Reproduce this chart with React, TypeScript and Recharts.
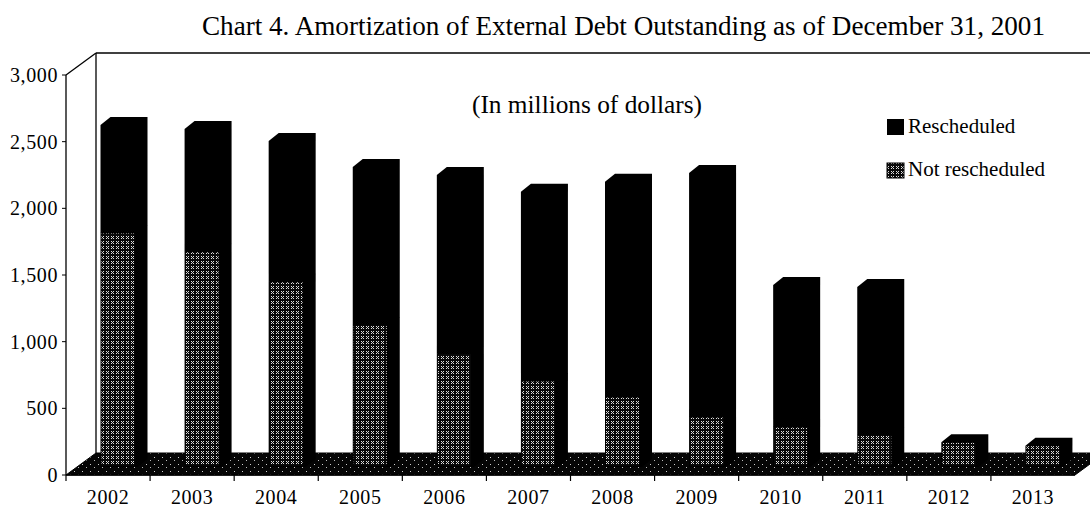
import React from 'react';
import { BarChart, Bar, XAxis, YAxis } from 'recharts';

const FONT = '"Liberation Serif", "Times New Roman", Times, serif';

const years = ['2002', '2003', '2004', '2005', '2006', '2007', '2008', '2009', '2010', '2011', '2012', '2013'];
const notRescheduled = [1755, 1615, 1390, 1065, 850, 645, 525, 375, 300, 240, 185, 160];
const rescheduled = [810, 920, 1055, 1185, 1340, 1420, 1615, 1830, 1065, 1110, 0, 0];
const valueTicks = [0, 500, 1000, 1500, 2000, 2500, 3000];
const seriesNames = ['Rescheduled', 'Not rescheduled'];
const chartTitle = 'Chart 4. Amortization of External Debt Outstanding as of December 31, 2001';
const chartSubtitle = '(In millions of dollars)';

const data = years.map((year, i) => ({
  year,
  notRescheduled: notRescheduled[i],
  rescheduled: rescheduled[i],
}));

// layout constants
const W = 1090;
const H = 508;
const PLOT_LEFT = 66;
const PLOT_RIGHT = 1075;
const PLOT_TOP = 75;
const PLOT_BOTTOM = 475;
const BAND = (PLOT_RIGHT - PLOT_LEFT) / years.length;
const WALL_DX = 30;
const WALL_DY = 22;
const DEPTH_X = 10;
const DEPTH_Y = 8;
const SHIFT_X = 10.5;
const SHIFT_Y = 8;

const Bar3D = (props: any) => {
  const { x, y, width, height, patterned } = props;
  if (height == null || height <= 0.5) return null;
  const X = x + SHIFT_X;
  const T = y - SHIFT_Y;
  const B = y + height - SHIFT_Y;
  const w = width;
  const pts = [
    [X, B],
    [X, T],
    [X + DEPTH_X, T - DEPTH_Y],
    [X + w + DEPTH_X, T - DEPTH_Y],
    [X + w + DEPTH_X, B - DEPTH_Y],
    [X + w, B],
  ]
    .map((p) => p.join(','))
    .join(' ');
  return (
    <g>
      <polygon points={pts} fill="#000" />
      {patterned && (
        <rect x={X + 1} y={T + 0.5} width={w - 4} height={Math.max(0, B - T - 2)} fill="url(#dotsPattern)" />
      )}
    </g>
  );
};

const XTick = (props: any) => {
  const { x, payload } = props;
  return (
    <g>
      <line x1={x - BAND / 2} x2={x - BAND / 2} y1={PLOT_BOTTOM} y2={PLOT_BOTTOM + 6} stroke="#000" strokeWidth={1.2} />
      <text
        x={x}
        y={PLOT_BOTTOM + 15}
        dy="0.71em"
        textAnchor="middle"
        fontFamily={FONT}
        fontSize={20}
        letterSpacing={0.6}
        fill="#000"
      >
        {payload.value}
      </text>
    </g>
  );
};

export default function App() {
  const floorPts = [
    [PLOT_LEFT, PLOT_BOTTOM],
    [PLOT_LEFT + WALL_DX, PLOT_BOTTOM - WALL_DY],
    [W, PLOT_BOTTOM - WALL_DY],
    [W, PLOT_BOTTOM - 11],
    [PLOT_RIGHT, PLOT_BOTTOM],
  ]
    .map((p) => p.join(','))
    .join(' ');

  return (
    <div style={{ position: 'absolute', left: 0, top: 0, width: W, height: H, background: '#fff' }}>
      <svg style={{ position: 'absolute', left: 0, top: 0 }} width={W} height={H}>
        <defs>
          <pattern id="dotsPattern" width="5" height="5" patternUnits="userSpaceOnUse">
            <rect width="5" height="5" fill="#0a0a0a" />
            <rect x="1" y="1" width="1" height="1" fill="#e0e0e0" />
            <rect x="3" y="1" width="1" height="1" fill="#e0e0e0" />
            <rect x="2" y="2" width="1" height="1" fill="#c8c8c8" />
            <rect x="1" y="3" width="1" height="1" fill="#e0e0e0" />
            <rect x="3" y="3" width="1" height="1" fill="#e0e0e0" />
          </pattern>
          <pattern id="floorPattern" width="8" height="7" patternUnits="userSpaceOnUse">
            <rect width="8" height="7" fill="#050505" />
            <rect x="2" y="2" width="1" height="1" fill="#d0d0d0" />
            <rect x="6" y="5" width="1" height="1" fill="#bbbbbb" />
          </pattern>
        </defs>

        <text x={202} y={35} fontFamily={FONT} fontSize={27} fill="#000" textLength={843} lengthAdjust="spacingAndGlyphs">
          {chartTitle}
        </text>
        <text x={472} y={113} fontFamily={FONT} fontSize={25} fill="#000" textLength={230} lengthAdjust="spacingAndGlyphs">
          {chartSubtitle}
        </text>

        {/* 3D frame: floor and back wall */}
        <polygon points={floorPts} fill="url(#floorPattern)" stroke="#000" strokeWidth={1} />
        <line x1={PLOT_LEFT} y1={PLOT_TOP} x2={PLOT_LEFT + WALL_DX} y2={PLOT_TOP - WALL_DY} stroke="#000" strokeWidth={1.3} />
        <line x1={PLOT_LEFT + WALL_DX} y1={PLOT_TOP - WALL_DY} x2={W} y2={PLOT_TOP - WALL_DY} stroke="#000" strokeWidth={1.5} />
        <line x1={PLOT_LEFT + WALL_DX} y1={PLOT_TOP - WALL_DY} x2={PLOT_LEFT + WALL_DX} y2={PLOT_BOTTOM - WALL_DY} stroke="#000" strokeWidth={1.3} />

        {/* legend */}
        <rect x={887} y={119} width={17} height={16} fill="#000" />
        <text x={908} y={133} fontFamily={FONT} fontSize={21} fill="#000">
          {seriesNames[0]}
        </text>
        <rect x={887} y={163} width={17} height={15} fill="url(#dotsPattern)" stroke="#000" strokeWidth={1} />
        <text x={908} y={176} fontFamily={FONT} fontSize={21} fill="#000">
          {seriesNames[1]}
        </text>
      </svg>

      <div style={{ position: 'absolute', left: 0, top: 0 }}>
        <BarChart
          width={W}
          height={H}
          data={data}
          margin={{ top: PLOT_TOP, right: W - PLOT_RIGHT, bottom: 0, left: 0 }}
          barSize={37}
        >
          <XAxis
            dataKey="year"
            height={H - PLOT_BOTTOM}
            interval={0}
            axisLine={{ stroke: '#000', strokeWidth: 1.3 }}
            tickLine={false}
            tick={(p: any) => <XTick {...p} />}
          />
          <YAxis
            width={PLOT_LEFT}
            domain={[0, 3000]}
            ticks={valueTicks}
            interval={0}
            tickFormatter={(v: number) => v.toLocaleString('en-US')}
            axisLine={{ stroke: '#000', strokeWidth: 1.3 }}
            tickLine={{ stroke: '#000' }}
            tickSize={4}
            tickMargin={4}
            tick={{ fontFamily: FONT, fontSize: 20, fill: '#000', letterSpacing: 0.6 }}
          />
          <Bar
            dataKey="notRescheduled"
            name={seriesNames[1]}
            stackId="a"
            fill="#000"
            isAnimationActive={false}
            shape={(p: any) => <Bar3D {...p} patterned />}
          />
          <Bar
            dataKey="rescheduled"
            name={seriesNames[0]}
            stackId="a"
            fill="#000"
            isAnimationActive={false}
            shape={(p: any) => <Bar3D {...p} />}
          />
        </BarChart>
      </div>
    </div>
  );
}
